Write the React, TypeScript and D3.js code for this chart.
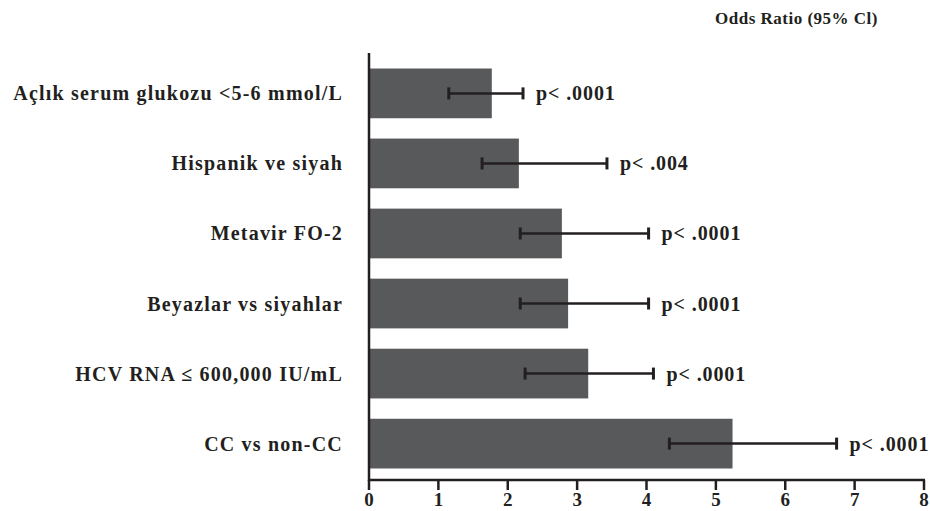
import React from "react";
import * as d3 from "d3";

const categories = [
  "Açlık serum glukozu <5-6 mmol/L",
  "Hispanik ve siyah",
  "Metavir FO-2",
  "Beyazlar vs siyahlar",
  "HCV RNA ≤ 600,000 IU/mL",
  "CC vs non-CC",
];
const oddsRatio = [1.77, 2.16, 2.78, 2.87, 3.16, 5.24];
const ciLow = [1.15, 1.63, 2.18, 2.18, 2.25, 4.33];
const ciHigh = [2.22, 3.43, 4.03, 4.03, 4.1, 6.74];
const pLabels = ["p< .0001", "p< .004", "p< .0001", "p< .0001", "p< .0001", "p< .0001"];
const xTicks = [0, 1, 2, 3, 4, 5, 6, 7, 8];
const title = "Odds Ratio (95% Cl)";

const W = 930;
const H = 511;
const FONT = "'Liberation Serif', 'Times New Roman', serif";

export default function App() {
  const x = d3.scaleLinear().domain([0, 8]).range([369, 924]);
  const y = d3
    .scaleBand<string>()
    .domain(categories)
    .range([58, 479])
    .paddingInner(0.29)
    .paddingOuter(0.15);
  const bh = y.bandwidth();
  const axisY = 480;
  return (
    <svg
      width={W}
      height={H}
      style={{ position: "absolute", left: 0, top: 0, background: "#fff" }}
      fontFamily={FONT}
      fontWeight="bold"
    >
      <text x={878} y={24} textAnchor="end" fontSize={17} letterSpacing={0.5} fill="#231f20">
        {title}
      </text>
      {categories.map((c, i) => {
        const y0 = y(c)!;
        const cy = y0 + bh / 2;
        return (
          <g key={c}>
            <rect x={x(0)} y={y0} width={x(oddsRatio[i]) - x(0)} height={bh} fill="#58595b" />
            <line x1={x(ciLow[i])} x2={x(ciHigh[i])} y1={cy} y2={cy} stroke="#231f20" strokeWidth={2.5} />
            <line x1={x(ciLow[i])} x2={x(ciLow[i])} y1={cy - 6} y2={cy + 6} stroke="#231f20" strokeWidth={3} />
            <line x1={x(ciHigh[i])} x2={x(ciHigh[i])} y1={cy - 6} y2={cy + 6} stroke="#231f20" strokeWidth={3} />
            <text x={x(ciHigh[i]) + 13} y={cy} dy="0.35em" fontSize={20} letterSpacing={0.9} fill="#231f20">
              {pLabels[i]}
            </text>
            <text x={343} y={cy} dy="0.35em" textAnchor="end" fontSize={20} letterSpacing={1.2} fill="#231f20">
              {c}
            </text>
          </g>
        );
      })}
      <line x1={x(0)} x2={x(0)} y1={53} y2={axisY + 1} stroke="#231f20" strokeWidth={2.5} />
      <line x1={x(0) - 1} x2={x(8) + 1} y1={axisY} y2={axisY} stroke="#231f20" strokeWidth={2.5} />
      {xTicks.map((t) => (
        <g key={t}>
          <line x1={x(t)} x2={x(t)} y1={axisY} y2={axisY + 10} stroke="#231f20" strokeWidth={2.5} />
          <text x={x(t)} y={506} textAnchor="middle" fontSize={19} fill="#231f20">
            {t}
          </text>
        </g>
      ))}
    </svg>
  );
}
